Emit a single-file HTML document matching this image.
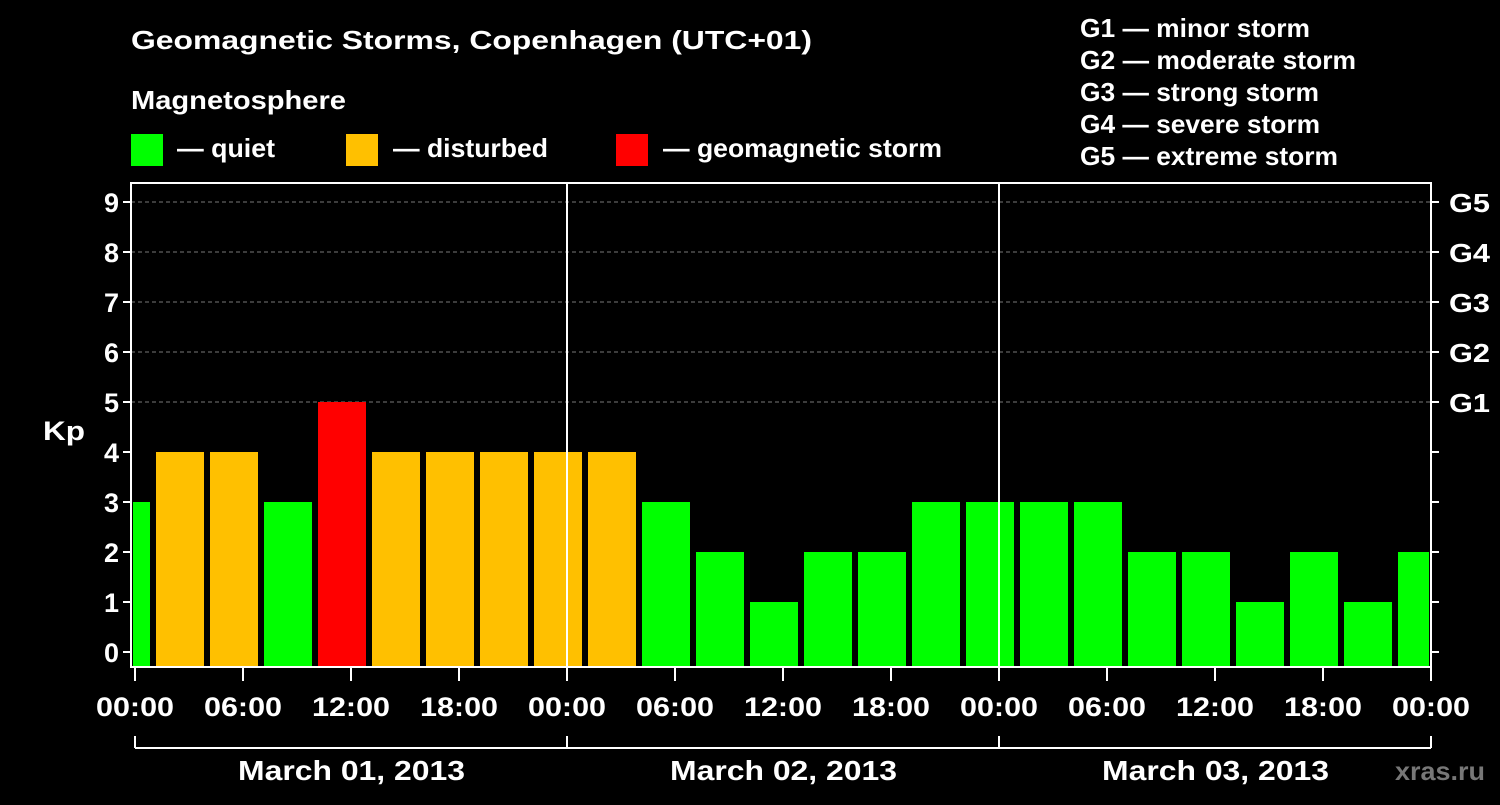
<!DOCTYPE html>
<html><head><meta charset="utf-8"><style>
body{margin:0;background:#000;width:1500px;height:800px;overflow:hidden}
svg text{font-family:"Liberation Sans",Arial,sans-serif;font-weight:bold;fill:#fff}
</style></head><body>
<svg id="chart" width="1500" height="800" xmlns="http://www.w3.org/2000/svg">
<text x="131" y="49" font-size="26" textLength="681" lengthAdjust="spacingAndGlyphs">Geomagnetic Storms, Copenhagen (UTC+01)</text>
<text x="131" y="109" font-size="26" textLength="215" lengthAdjust="spacingAndGlyphs">Magnetosphere</text>
<rect x="131" y="134" width="32" height="32" fill="#00ff00"/>
<text x="177" y="157" font-size="26" textLength="98" lengthAdjust="spacingAndGlyphs">— quiet</text>
<rect x="346" y="134" width="32" height="32" fill="#ffc000"/>
<text x="393" y="157" font-size="26" textLength="155" lengthAdjust="spacingAndGlyphs">— disturbed</text>
<rect x="616" y="134" width="32" height="32" fill="#ff0000"/>
<text x="663" y="157" font-size="26" textLength="279" lengthAdjust="spacingAndGlyphs">— geomagnetic storm</text>
<g font-size="26">
<text x="1080" y="37" textLength="230" lengthAdjust="spacingAndGlyphs">G1 — minor storm</text>
<text x="1080" y="69" textLength="276" lengthAdjust="spacingAndGlyphs">G2 — moderate storm</text>
<text x="1080" y="101" textLength="239" lengthAdjust="spacingAndGlyphs">G3 — strong storm</text>
<text x="1080" y="133" textLength="240" lengthAdjust="spacingAndGlyphs">G4 — severe storm</text>
<text x="1080" y="165" textLength="258" lengthAdjust="spacingAndGlyphs">G5 — extreme storm</text>
</g>
<text x="1395" y="780" font-size="26" textLength="90" lengthAdjust="spacingAndGlyphs" style="fill:#777">xras.ru</text>
<text x="43" y="440" font-size="27" textLength="42" lengthAdjust="spacingAndGlyphs">Kp</text>
<g id="g"></g>
</svg>
<script>
const kpValues=[3,4,4,3,5,4,4,4,4,4,3,2,1,2,2,3,3,3,3,2,2,1,2,1,2];
const yTicks=[0,1,2,3,4,5,6,7,8,9];
const gLabels=["G1","G2","G3","G4","G5"];
const xTickLabels=["00:00","06:00","12:00","18:00","00:00","06:00","12:00","18:00","00:00","06:00","12:00","18:00","00:00"];
const dayLabels=["March 01, 2013","March 02, 2013","March 03, 2013"];
const NS="http://www.w3.org/2000/svg";
const g=document.getElementById('g');
const X0=135,PXH=18,Y0=652,PXK=50,L=131,R=1431,T=183,B=667;
const x=h=>X0+h*PXH, y=k=>Y0-k*PXK;
function mk(t,a,p){const e=document.createElementNS(NS,t);for(const k in a)e.setAttribute(k,a[k]);(p||g).appendChild(e);return e;}
yTicks.forEach(k=>{if(k>=5){const l=mk('line',{x1:L,x2:R,y1:y(k),y2:y(k),stroke:'#777','stroke-dasharray':'4,3'});

}});
const cl=mk('clipPath',{id:'cp'});mk('rect',{x:L+2,y:T,width:R-L-4,height:B-T},cl);
kpValues.forEach((v,i)=>{const c=v>=5?'#ff0000':v>=4?'#ffc000':'#00ff00';
const cx=x(3*i-0.5);
const r=mk('rect',{x:cx-24,y:y(v),width:48,height:B-y(v),fill:c,'clip-path':'url(#cp)'});

});
const f=mk('rect',{x:L,y:T,width:R-L,height:B-T,fill:'none',stroke:'#fff','stroke-width':2});


[1,2].forEach(d=>{const l=mk('line',{x1:x(24*d),x2:x(24*d),y1:T,y2:B,stroke:'#fff','stroke-width':2});

});
yTicks.forEach(k=>{mk('line',{x1:L-8,x2:L,y1:y(k),y2:y(k),stroke:'#fff','stroke-width':2});
mk('line',{x1:R,x2:R+8,y1:y(k),y2:y(k),stroke:'#fff','stroke-width':2});
const t=mk('text',{x:L-12,y:y(k)+10,'font-size':27,'text-anchor':'end'});t.textContent=k;

});
gLabels.forEach((s,i)=>{const t=mk('text',{x:R+18,y:y(5+i)+10,'font-size':26,textLength:41,lengthAdjust:'spacingAndGlyphs'});t.textContent=s;

});
xTickLabels.forEach((s,i)=>{const xx=x(6*i);mk('line',{x1:xx,x2:xx,y1:B,y2:B+14,stroke:'#fff','stroke-width':2});
const t=mk('text',{x:xx-39,y:716,'font-size':27,textLength:78,lengthAdjust:'spacingAndGlyphs'});t.textContent=s;

});
mk('line',{x1:x(0),x2:x(72),y1:748,y2:748,stroke:'#fff','stroke-width':2});
[0,1,2,3].forEach(d=>mk('line',{x1:x(24*d),x2:x(24*d),y1:736,y2:748,stroke:'#fff','stroke-width':2}));
dayLabels.forEach((s,i)=>{const t=mk('text',{x:x(24*i+12)-113,y:780,'font-size':28,textLength:227,lengthAdjust:'spacingAndGlyphs'});t.textContent=s;

});
</script>
</body></html>
